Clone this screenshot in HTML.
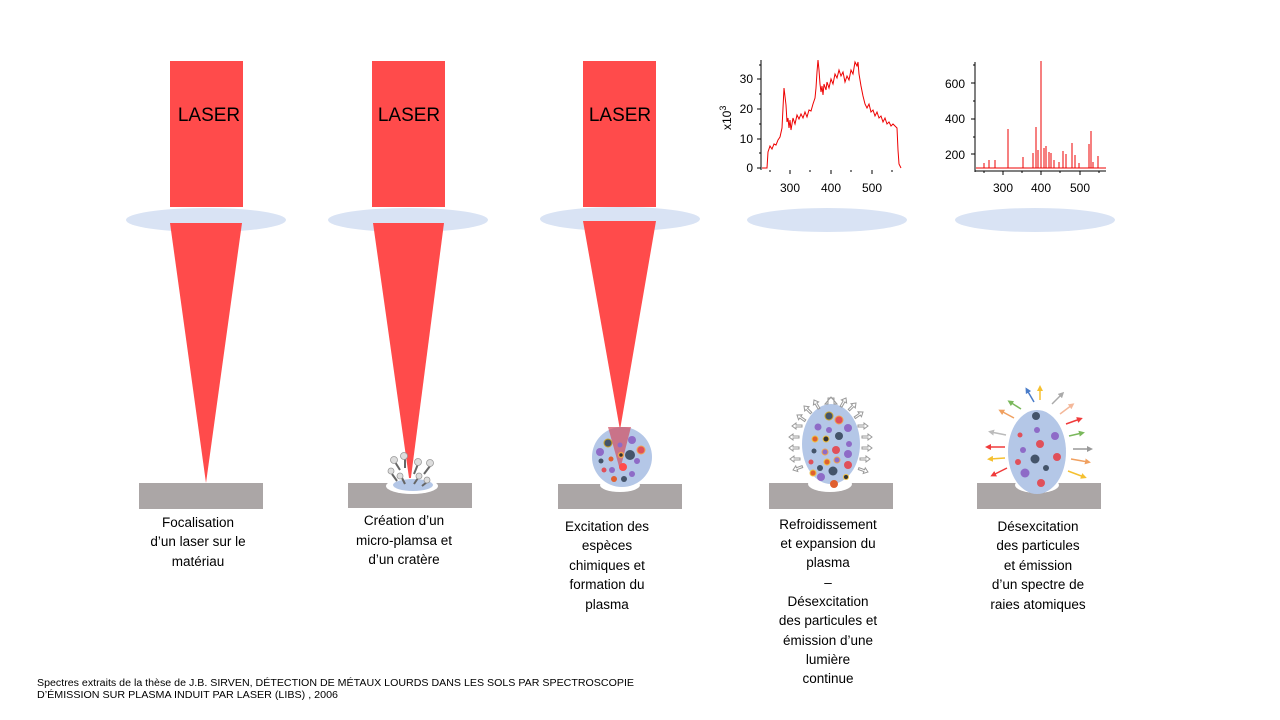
<!DOCTYPE html>
<html><head><meta charset="utf-8"><style>
html,body{margin:0;padding:0;background:#fff}
svg{display:block}
text{font-family:"Liberation Sans",sans-serif}
.cap{font-size:13.5px;fill:#000;text-anchor:middle}
</style></head><body>
<svg width="1280" height="720" viewBox="0 0 1280 720" xmlns="http://www.w3.org/2000/svg">
<defs>
<marker id="ah" viewBox="0 0 10 10" refX="5" refY="5" markerWidth="4" markerHeight="4" orient="auto"><path d="M0,0 L10,5 L0,10 z" fill="context-stroke"/></marker>
</defs>
<!-- lenses -->
<g fill="#d9e3f4">
<ellipse cx="206" cy="220" rx="80" ry="12"/>
<ellipse cx="408" cy="220" rx="80" ry="12"/>
<ellipse cx="620" cy="219" rx="80" ry="12"/>
<ellipse cx="827" cy="220" rx="80" ry="12"/>
<ellipse cx="1035" cy="220" rx="80" ry="12"/>
</g>
<!-- lasers -->
<g fill="#ff4b4b">
<rect x="170" y="61" width="73" height="146"/>
<rect x="372" y="61" width="73" height="146"/>
<rect x="583" y="61" width="73" height="146"/>
<polygon points="170,223 242,223 206,483"/>
<polygon points="373,223 444,223 410,485"/>
<polygon points="583,221 656,221 620,430"/>
</g>
<g font-size="19" fill="#000" text-anchor="middle">
<text x="209" y="121">LASER</text><text x="409" y="121">LASER</text><text x="620" y="121">LASER</text>
</g>
<!-- grounds -->
<g fill="#aba6a6">
<rect x="139" y="483" width="124" height="26"/>
<rect x="348" y="483" width="124" height="25"/>
<rect x="558" y="484" width="124" height="25"/>
<rect x="769" y="483" width="124" height="26"/>
<rect x="977" y="483" width="124" height="26"/>
</g>
<!-- crater 2 -->
<ellipse cx="412" cy="486" rx="26" ry="8" fill="#fff"/>
<ellipse cx="413" cy="485" rx="20" ry="6" fill="#b4c7e7"/>
<g stroke="#666" stroke-width="2">
<line x1="395" y1="462" x2="400" y2="470"/><line x1="405" y1="458" x2="405" y2="468"/><line x1="418" y1="464" x2="414" y2="474"/><line x1="430" y1="466" x2="424" y2="474"/><line x1="392" y1="474" x2="397" y2="481"/><line x1="402" y1="478" x2="405" y2="484"/><line x1="418" y1="478" x2="414" y2="484"/><line x1="427" y1="482" x2="422" y2="486"/>
</g>
<g fill="#ddd" stroke="#999" stroke-width="0.8">
<circle cx="394" cy="460" r="3.5"/><circle cx="404" cy="456" r="3.5"/><circle cx="418" cy="462" r="3.5"/><circle cx="430" cy="463" r="3.5"/><circle cx="391" cy="471" r="3"/><circle cx="400" cy="476" r="3"/><circle cx="419" cy="476" r="3"/><circle cx="427" cy="480" r="3"/>
</g>
<!-- plasma 3 -->
<ellipse cx="620" cy="485" rx="20" ry="7" fill="#fff"/>
<circle cx="622" cy="457" r="30" fill="#b4c7e7"/>
<polygon points="608,427 631,427 620,470" fill="#d0576a" opacity="0.75"/>
<g>
<circle cx="608" cy="443" r="4" fill="#44546a" stroke="#c9a227"/><circle cx="632" cy="440" r="4" fill="#8e6bc7"/><circle cx="600" cy="452" r="4" fill="#8e6bc7"/><circle cx="630" cy="455" r="5" fill="#44546a"/><circle cx="641" cy="450" r="4" fill="#e0505a" stroke="#f0a050"/><circle cx="621" cy="455" r="2.5" fill="#333" stroke="#f0a050" stroke-width="1.5"/><circle cx="601" cy="461" r="2.5" fill="#44546a"/><circle cx="611" cy="459" r="2.5" fill="#e06030"/><circle cx="637" cy="461" r="3" fill="#8e6bc7"/><circle cx="604" cy="470" r="2.5" fill="#e0505a"/><circle cx="612" cy="470" r="3" fill="#8e6bc7"/><circle cx="623" cy="467" r="4" fill="#ff4b4b"/><circle cx="632" cy="474" r="3" fill="#8e6bc7"/><circle cx="614" cy="479" r="3" fill="#e06030"/><circle cx="624" cy="479" r="3" fill="#44546a"/><circle cx="620" cy="445" r="2.5" fill="#8e6bc7"/>
</g>
<!-- plasma 4 -->
<ellipse cx="830" cy="484" rx="22" ry="8" fill="#fff"/>
<ellipse cx="831" cy="444" rx="29" ry="40" fill="#b4c7e7"/>
<g>
<circle cx="829" cy="416" r="4" fill="#44546a" stroke="#c9a227"/><circle cx="839" cy="420" r="4" fill="#e0505a" stroke="#f0a050"/><circle cx="818" cy="427" r="3.5" fill="#8e6bc7"/><circle cx="829" cy="430" r="3" fill="#8e6bc7"/><circle cx="848" cy="428" r="4" fill="#8e6bc7"/><circle cx="839" cy="436" r="4" fill="#44546a"/><circle cx="815" cy="439" r="3" fill="#e06030" stroke="#f0c040"/><circle cx="826" cy="439" r="3" fill="#333" stroke="#f0c040"/><circle cx="849" cy="444" r="3" fill="#8e6bc7"/><circle cx="814" cy="451" r="2.5" fill="#44546a"/><circle cx="825" cy="452" r="3" fill="#8e6bc7" stroke="#f0a050"/><circle cx="836" cy="450" r="4" fill="#e0505a"/><circle cx="848" cy="454" r="4" fill="#8e6bc7"/><circle cx="811" cy="462" r="2.5" fill="#e0505a"/><circle cx="827" cy="462" r="3" fill="#e06030" stroke="#f0c040"/><circle cx="837" cy="460" r="3" fill="#8e6bc7" stroke="#f0a050"/><circle cx="848" cy="465" r="4" fill="#e0505a"/><circle cx="820" cy="468" r="3" fill="#44546a"/><circle cx="833" cy="471" r="4.5" fill="#44546a"/><circle cx="813" cy="473" r="3" fill="#e06030" stroke="#f0c040"/><circle cx="821" cy="477" r="4" fill="#8e6bc7"/><circle cx="846" cy="477" r="2.5" fill="#333" stroke="#f0c040"/><circle cx="834" cy="484" r="4" fill="#e06030"/>
</g>
<g fill="#fff" stroke="#999" stroke-width="1">
<path d="M831,398 l-3,0 0,6 -3,0 6,-7 6,7 -3,0 0,-6z"/>
<path d="M0,0 l4,-3 0,2 6,0 0,2 -6,0 0,2 z" transform="translate(789,437)"/>
<path d="M0,0 l4,-3 0,2 6,0 0,2 -6,0 0,2 z" transform="translate(789,448)"/>
<path d="M0,0 l4,-3 0,2 6,0 0,2 -6,0 0,2 z" transform="translate(790,459)"/>
<path d="M0,0 l4,-3 0,2 6,0 0,2 -6,0 0,2 z" transform="translate(792,426)"/>
<path d="M0,0 l4,-3 0,2 6,0 0,2 -6,0 0,2 z" transform="translate(793,470) rotate(-20)"/>
<path d="M0,0 l4,-3 0,2 6,0 0,2 -6,0 0,2 z" transform="translate(797,415) rotate(35)"/>
<path d="M0,0 l4,-3 0,2 6,0 0,2 -6,0 0,2 z" transform="translate(804,406) rotate(45)"/>
<path d="M0,0 l4,-3 0,2 6,0 0,2 -6,0 0,2 z" transform="translate(814,400) rotate(60)"/>
<path d="M0,0 l-4,-3 0,2 -6,0 0,2 6,0 0,2 z" transform="translate(872,437)"/>
<path d="M0,0 l-4,-3 0,2 -6,0 0,2 6,0 0,2 z" transform="translate(872,448)"/>
<path d="M0,0 l-4,-3 0,2 -6,0 0,2 6,0 0,2 z" transform="translate(870,459)"/>
<path d="M0,0 l-4,-3 0,2 -6,0 0,2 6,0 0,2 z" transform="translate(868,426)"/>
<path d="M0,0 l-4,-3 0,2 -6,0 0,2 6,0 0,2 z" transform="translate(868,472) rotate(20)"/>
<path d="M0,0 l-4,-3 0,2 -6,0 0,2 6,0 0,2 z" transform="translate(863,412) rotate(-35)"/>
<path d="M0,0 l-4,-3 0,2 -6,0 0,2 6,0 0,2 z" transform="translate(856,403) rotate(-45)"/>
<path d="M0,0 l-4,-3 0,2 -6,0 0,2 6,0 0,2 z" transform="translate(846,398) rotate(-60)"/>
</g>
<!-- plasma 5 -->
<ellipse cx="1037" cy="485" rx="22" ry="8" fill="#fff"/>
<ellipse cx="1037" cy="452" rx="29" ry="42" fill="#b4c7e7"/>
<g>
<circle cx="1036" cy="416" r="4" fill="#44546a"/><circle cx="1037" cy="430" r="3" fill="#8e6bc7"/><circle cx="1055" cy="436" r="4" fill="#8e6bc7"/><circle cx="1020" cy="435" r="2.5" fill="#e0505a"/><circle cx="1040" cy="444" r="4" fill="#e0505a"/><circle cx="1023" cy="450" r="3" fill="#8e6bc7"/><circle cx="1057" cy="457" r="4" fill="#e0505a"/><circle cx="1035" cy="459" r="4.5" fill="#44546a"/><circle cx="1018" cy="462" r="3" fill="#e0505a"/><circle cx="1046" cy="468" r="3" fill="#44546a"/><circle cx="1025" cy="473" r="4.5" fill="#8e6bc7"/><circle cx="1041" cy="483" r="4" fill="#e0505a"/>
</g>
<g stroke-width="1.5" fill="none" marker-end="url(#ah)">
<line x1="1034" y1="402" x2="1027" y2="390" stroke="#4a7cc9"/>
<line x1="1040" y1="400" x2="1040" y2="388" stroke="#f5c030"/>
<line x1="1052" y1="404" x2="1062" y2="394" stroke="#aaa"/>
<line x1="1060" y1="414" x2="1072" y2="405" stroke="#f4b89a"/>
<line x1="1066" y1="424" x2="1080" y2="419" stroke="#f03b3b"/>
<line x1="1069" y1="436" x2="1082" y2="433" stroke="#7ab85c"/>
<line x1="1073" y1="449" x2="1090" y2="449" stroke="#999"/>
<line x1="1071" y1="459" x2="1088" y2="462" stroke="#f0a060"/>
<line x1="1068" y1="471" x2="1084" y2="477" stroke="#f5c030"/>
<line x1="1021" y1="409" x2="1010" y2="402" stroke="#7ab85c"/>
<line x1="1014" y1="418" x2="1001" y2="411" stroke="#f0a060"/>
<line x1="1006" y1="435" x2="991" y2="432" stroke="#bbb"/>
<line x1="1005" y1="447" x2="988" y2="447" stroke="#f03b3b"/>
<line x1="1005" y1="458" x2="990" y2="459" stroke="#f5c030"/>
<line x1="1007" y1="468" x2="993" y2="475" stroke="#f03b3b"/>
</g>
<!-- chart 1 -->
<g stroke="#000" stroke-width="1" fill="none">
<line x1="761" y1="60" x2="761" y2="170"/>
<line x1="757" y1="168" x2="761" y2="168"/><line x1="757" y1="139" x2="761" y2="139"/><line x1="757" y1="109" x2="761" y2="109"/><line x1="757" y1="79" x2="761" y2="79"/>
<line x1="759" y1="153" x2="761" y2="153"/><line x1="759" y1="124" x2="761" y2="124"/><line x1="759" y1="94" x2="761" y2="94"/><line x1="759" y1="65" x2="761" y2="65"/>
<line x1="790" y1="170" x2="790" y2="174"/><line x1="831" y1="170" x2="831" y2="174"/><line x1="872" y1="170" x2="872" y2="174"/>
<line x1="770" y1="170" x2="770" y2="172"/><line x1="810" y1="170" x2="810" y2="172"/><line x1="851" y1="170" x2="851" y2="172"/><line x1="892" y1="170" x2="892" y2="172"/>
</g>
<g font-size="12" fill="#000">
<text x="753" y="172" text-anchor="end">0</text><text x="753" y="143" text-anchor="end">10</text><text x="753" y="113" text-anchor="end">20</text><text x="753" y="83" text-anchor="end">30</text>
<text x="790" y="192" text-anchor="middle">300</text><text x="831" y="192" text-anchor="middle">400</text><text x="872" y="192" text-anchor="middle">500</text>
<text transform="translate(731,130) rotate(-90)" font-size="12">x10<tspan dy="-5" font-size="9">3</tspan></text>
<text x="965" y="88" text-anchor="end">600</text><text x="965" y="123" text-anchor="end">400</text><text x="965" y="159" text-anchor="end">200</text>
<text x="1003" y="192" text-anchor="middle">300</text><text x="1041" y="192" text-anchor="middle">400</text><text x="1080" y="192" text-anchor="middle">500</text>
</g>
<polyline fill="none" stroke="#e00" stroke-width="1" points="762,168 767,168 768,152 770,146 772,149 774,144 776,145 778,140 780,137 782,128 783,108 784,88 786,105 787,122 788,118 789,128 790,120 791,130 793,118 795,124 797,115 799,119 801,114 803,118 805,112 807,117 809,110 811,111 813,104 815,98 816,88 817,72 818,60 819,70 820,84 821,92 822,86 823,95 824,84 826,90 827,82 829,88 831,79 833,84 835,74 837,78 839,70 841,76 843,72 845,82 847,76 849,80 851,70 853,74 855,62 857,66 858,62 859,74 861,86 863,96 865,104 867,108 869,104 871,112 873,110 875,116 877,112 879,118 881,116 883,122 885,118 887,124 889,122 891,126 893,124 895,126 897,128 898,150 899,164 901,168"/>
<!-- chart 2 -->
<g stroke="#000" stroke-width="1" fill="none">
<line x1="975" y1="62" x2="975" y2="172"/>
<line x1="971" y1="83" x2="975" y2="83"/><line x1="971" y1="119" x2="975" y2="119"/><line x1="971" y1="154" x2="975" y2="154"/>
<line x1="973" y1="65" x2="975" y2="65"/><line x1="973" y1="101" x2="975" y2="101"/><line x1="973" y1="137" x2="975" y2="137"/>
<line x1="975" y1="171" x2="1106" y2="171"/>
<line x1="1003" y1="171" x2="1003" y2="175"/><line x1="1041" y1="171" x2="1041" y2="175"/><line x1="1080" y1="171" x2="1080" y2="175"/>
<line x1="984" y1="171" x2="984" y2="173"/><line x1="1022" y1="171" x2="1022" y2="173"/><line x1="1060" y1="171" x2="1060" y2="173"/><line x1="1099" y1="171" x2="1099" y2="173"/>
</g>
<g stroke="#e00" stroke-width="1">
<line x1="976" y1="168" x2="1106" y2="168"/>
<line x1="984" y1="168" x2="984" y2="163"/><line x1="989" y1="168" x2="989" y2="160"/><line x1="995" y1="168" x2="995" y2="160"/><line x1="1008" y1="168" x2="1008" y2="129"/><line x1="1023" y1="168" x2="1023" y2="157"/><line x1="1033" y1="168" x2="1033" y2="153"/><line x1="1036" y1="168" x2="1036" y2="127"/><line x1="1038" y1="168" x2="1038" y2="150"/><line x1="1041" y1="168" x2="1041" y2="61"/><line x1="1044" y1="168" x2="1044" y2="148"/><line x1="1046" y1="168" x2="1046" y2="146"/><line x1="1049" y1="168" x2="1049" y2="152"/><line x1="1051" y1="168" x2="1051" y2="153"/><line x1="1054" y1="168" x2="1054" y2="160"/><line x1="1059" y1="168" x2="1059" y2="162"/><line x1="1063" y1="168" x2="1063" y2="151"/><line x1="1066" y1="168" x2="1066" y2="154"/><line x1="1072" y1="168" x2="1072" y2="143"/><line x1="1075" y1="168" x2="1075" y2="155"/><line x1="1079" y1="168" x2="1079" y2="163"/><line x1="1089" y1="168" x2="1089" y2="144"/><line x1="1091" y1="168" x2="1091" y2="131"/><line x1="1093" y1="168" x2="1093" y2="162"/><line x1="1098" y1="168" x2="1098" y2="156"/>
</g>
<!-- captions -->
<text class="cap" x="198" y="527">Focalisation</text><text class="cap" x="198" y="546">d’un laser sur le</text><text class="cap" x="198" y="566">matériau</text>
<text class="cap" x="404" y="525">Création d’un</text><text class="cap" x="404" y="545">micro-plamsa et</text><text class="cap" x="404" y="564">d’un cratère</text>
<text class="cap" x="607" y="531">Excitation des</text><text class="cap" x="607" y="550">espèces</text><text class="cap" x="607" y="570">chimiques et</text><text class="cap" x="607" y="589">formation du</text><text class="cap" x="607" y="609">plasma</text>
<text class="cap" x="828" y="529">Refroidissement</text><text class="cap" x="828" y="548">et expansion du</text><text class="cap" x="828" y="567">plasma</text><text class="cap" x="828" y="587">–</text><text class="cap" x="828" y="606">Désexcitation</text><text class="cap" x="828" y="625">des particules et</text><text class="cap" x="828" y="645">émission d’une</text><text class="cap" x="828" y="664">lumière</text><text class="cap" x="828" y="683">continue</text>
<text class="cap" x="1038" y="531">Désexcitation</text><text class="cap" x="1038" y="550">des particules</text><text class="cap" x="1038" y="570">et émission</text><text class="cap" x="1038" y="589">d’un spectre de</text><text class="cap" x="1038" y="609">raies atomiques</text>
<text x="37" y="686" font-size="10" fill="#000" textLength="597" lengthAdjust="spacingAndGlyphs">Spectres extraits de la thèse de J.B. SIRVEN,  DÉTECTION  DE MÉTAUX  LOURDS DANS LES SOLS PAR SPECTROSCOPIE</text>
<text x="37" y="698" font-size="10" fill="#000" textLength="301" lengthAdjust="spacingAndGlyphs">D’ÉMISSION  SUR PLASMA INDUIT  PAR LASER (LIBS) , 2006</text>
</svg>
</body></html>
